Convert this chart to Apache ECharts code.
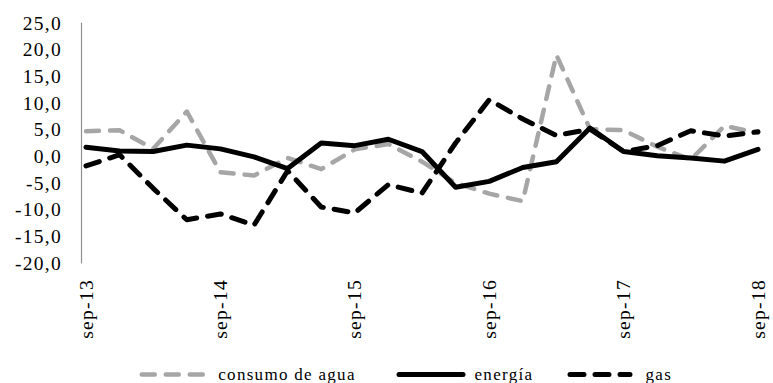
<!DOCTYPE html>
<html>
<head>
<meta charset="utf-8">
<script src="https://cdn.jsdelivr.net/npm/echarts@6/dist/echarts.min.js"></script>
<style>
  html, body { margin: 0; padding: 0; background: #fff; }
  #chart { width: 773px; height: 383px; }
  #chart svg text { letter-spacing: 1.3px; }
</style>
</head>
<body>
<div id="chart"></div>
<script>
// Quarterly periods, sep-13 .. sep-18
const categories = [
  'sep-13', 'dic-13', 'mar-14', 'jun-14',
  'sep-14', 'dic-14', 'mar-15', 'jun-15',
  'sep-15', 'dic-15', 'mar-16', 'jun-16',
  'sep-16', 'dic-16', 'mar-17', 'jun-17',
  'sep-17', 'dic-17', 'mar-18', 'jun-18',
  'sep-18'
];

// Annual variation (%) per series
const consumoAgua = [4.7, 4.9, 1.4, 8.4, -3.0, -3.6, -0.3, -2.4, 1.3, 2.3, -1.0, -5.0, -7.0, -8.4, 19.0, 5.1, 4.9, 1.8, -0.6, 5.7, 4.4];
const energia     = [1.7, 1.0, 0.9, 2.1, 1.4, -0.1, -2.3, 2.5, 2.0, 3.2, 0.9, -5.8, -4.7, -2.1, -1.0, 5.3, 0.9, 0.1, -0.3, -0.9, 1.3];
const gas         = [-1.8, 0.3, -6.0, -11.9, -10.8, -12.9, -2.7, -9.5, -10.6, -5.3, -6.9, 2.5, 10.6, 7.0, 3.9, 5.1, 0.9, 2.0, 4.8, 3.8, 4.6];

// Value axis range
const yMin = -20, yMax = 25, yStep = 5;

const FONT = 'Liberation Serif, Times New Roman, serif';
const GREY = '#a6a6a6';
const BLACK = '#000000';

const chart = echarts.init(document.getElementById('chart'), null, { renderer: 'svg' });

function legendBlock(name, left, width, textPad, lineW) {
  return {
    data: [name],
    left: left,
    top: 366,
    padding: 0,
    itemWidth: width,
    itemHeight: 14,
    selectedMode: false,
    lineStyle: { width: lineW, cap: 'round' },
    itemStyle: { color: 'rgba(0,0,0,0)', borderWidth: 0, opacity: 0 },
    textStyle: { fontFamily: FONT, fontSize: 17, color: '#000', padding: [0, 0, 0, textPad] }
  };
}

chart.setOption({
  animation: false,
  backgroundColor: '#fff',
  grid: { left: 86, right: 15, top: 23, bottom: 120, containLabel: false },
  legend: [
    legendBlock('consumo de agua', 139.5, 61.5, 10, 4.5),
    legendBlock('energía', 396.5, 64, 6.5, 5),
    legendBlock('gas', 567.5, 60, 10.5, 5)
  ],
  xAxis: {
    type: 'category',
    data: categories,
    boundaryGap: false,
    axisLine: { show: false },
    axisTick: { show: false },
    splitLine: { show: false },
    axisLabel: {
      interval: 3,
      rotate: 90,
      margin: 16,
      padding: [10, 0, 0, 0],
      color: '#000',
      fontFamily: FONT,
      fontSize: 19.5
    }
  },
  yAxis: {
    type: 'value',
    min: yMin,
    max: yMax,
    interval: yStep,
    offset: 5,
    axisLine: { show: true, lineStyle: { color: '#8f8f8f', width: 1.2 } },
    axisTick: { show: false },
    splitLine: { show: false },
    axisLabel: {
      margin: 19,
      color: '#000',
      fontFamily: FONT,
      fontSize: 19.5,
      formatter: v => v.toFixed(1).replace('.', ',')
    }
  },
  series: [
    {
      name: 'consumo de agua',
      type: 'line',
      data: consumoAgua,
      symbol: 'none',
      color: GREY,
      lineStyle: { color: GREY, width: 4.5, type: [13, 11], cap: 'round', join: 'round' },
      z: 2
    },
    {
      name: 'energía',
      type: 'line',
      data: energia,
      symbol: 'none',
      color: BLACK,
      lineStyle: { color: BLACK, width: 5, type: 'solid', cap: 'round', join: 'round' },
      z: 3
    },
    {
      name: 'gas',
      type: 'line',
      data: gas,
      symbol: 'none',
      color: BLACK,
      lineStyle: { color: BLACK, width: 5, type: [14, 11], cap: 'round', join: 'round' },
      z: 4
    }
  ]
});
</script>
</body>
</html>
